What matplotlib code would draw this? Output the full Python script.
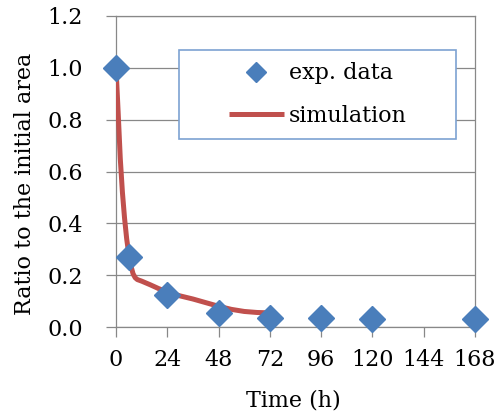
import matplotlib
matplotlib.use("Agg")
import matplotlib.pyplot as plt
from matplotlib.patches import Rectangle

# measured points
exp_time = [0, 6, 24, 48, 72, 96, 120, 168]
exp_ratio = [1.0, 0.27, 0.125, 0.055, 0.036, 0.036, 0.032, 0.03]

# simulation curve
sim_time = [0, 1, 2, 3, 4, 5, 6, 7, 8, 9, 10, 12, 16, 20, 24, 30, 36, 42, 48, 54, 60, 66, 70]
sim_ratio = [1.0, 0.83, 0.65, 0.52, 0.42, 0.34, 0.28, 0.235, 0.205, 0.19, 0.183, 0.177,
             0.163, 0.148, 0.135, 0.12, 0.108, 0.094, 0.08, 0.068, 0.06, 0.056, 0.055]

x_ticks = [0, 24, 48, 72, 96, 120, 144, 168]
y_ticks = [0.0, 0.2, 0.4, 0.6, 0.8, 1.0, 1.2]

BLUE = "#4a7ebb"
RED = "#c0504d"
GRID = "#888888"

plt.rcParams["font.family"] = ["DejaVu Serif"]

fig = plt.figure(figsize=(4.97, 4.18), dpi=100)
ax = fig.add_axes([116 / 497, 1 - 327 / 418, 359 / 497, 311 / 418])

line, = ax.plot(sim_time, sim_ratio, color=RED, lw=3.6, solid_capstyle="butt",
                zorder=3, label="simulation")
pts, = ax.plot(exp_time, exp_ratio, ls="none", marker="D", ms=13, color=BLUE,
               mec=BLUE, zorder=4, clip_on=False, label="exp. data")

ax.set_xlim(0, 168)
ax.set_ylim(0, 1.2)
ax.set_xticks(x_ticks)
ax.set_yticks(y_ticks)
ax.set_yticklabels([f"{v:.1f}" for v in y_ticks])
ax.grid(axis="y", color=GRID, lw=0.9)
ax.set_axisbelow(True)
for s in ax.spines.values():
    s.set_color(GRID)
    s.set_linewidth(0.9)
ax.tick_params(axis="both", colors=GRID, labelcolor="black", labelsize=16,
               length=7, width=0.9)
ax.tick_params(axis="y", pad=17)
ax.tick_params(axis="x", pad=9)

ax.set_xlabel("Time (h)", fontsize=16)
ax.set_ylabel("Ratio to the initial area", fontsize=16)
ax.xaxis.set_label_coords((293.5 - 116) / 359, (327 - 390) / 311)
ax.yaxis.set_label_coords((36 - 116) / 359, (327 - 184) / 311)

x0, y0 = (179 - 116) / 359, (327 - 139) / 311
w, h = (456 - 179) / 359, (139 - 50) / 311
ax.add_patch(Rectangle((x0, y0), w, h, transform=ax.transAxes, facecolor="white",
                       edgecolor="#7da2d2", lw=1.2, zorder=5))
leg = ax.legend([pts, line], ["exp. data", "simulation"], loc="center",
                bbox_to_anchor=(x0 + w / 2, y0 + h / 2), frameon=False,
                fontsize=16, handlelength=2.5, handletextpad=0.2,
                labelspacing=0.9, markerscale=0.75)
leg.set_zorder(6)

fig.savefig("out.png", dpi=100)
